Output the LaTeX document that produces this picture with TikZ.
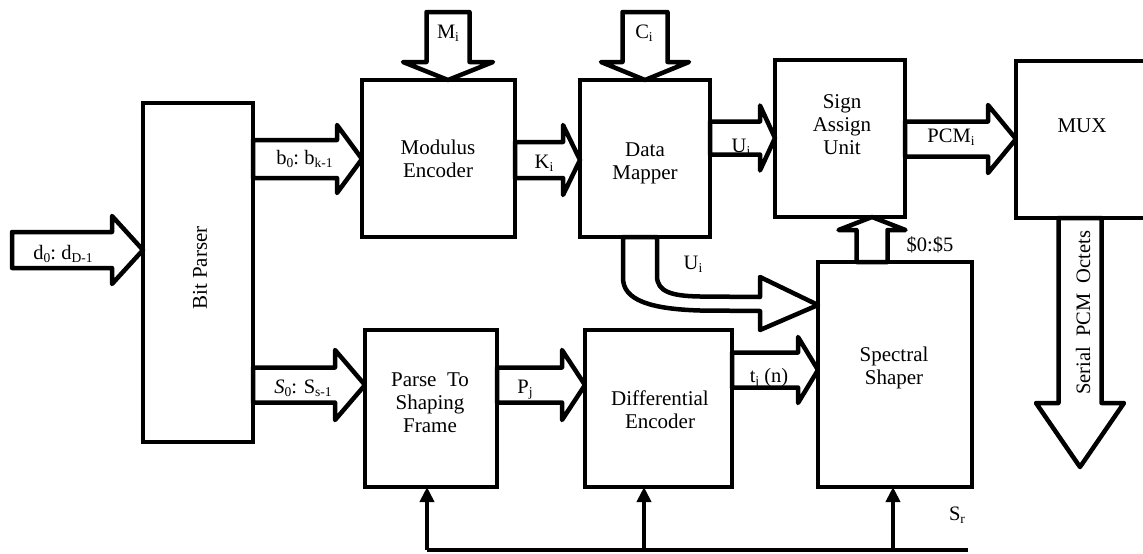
\documentclass[tikz,border=0pt]{standalone}
\usepackage{fontspec}
\setmainfont{Liberation Serif}
\usetikzlibrary{calc,arrows.meta}

% small lowered index used in the signal names
\newcommand\sbs[1]{\raisebox{-0.35ex}{\fontsize{13.5}{13.5}\selectfont #1}}

% hollow block arrows: #1 shaft start, #2 tip, #3 half shaft width,
% #4 half head width, #5 head length (all in pt)
\newcommand\blkR[5]{%
  \draw[blk] let \p1=#1, \p2=#2 in
    (\x1,\y2+#3pt) -- (\x2-#5pt,\y2+#3pt) -- (\x2-#5pt,\y2+#4pt) -- (\x2,\y2)
    -- (\x2-#5pt,\y2-#4pt) -- (\x2-#5pt,\y2-#3pt) -- (\x1,\y2-#3pt) -- cycle;}
\newcommand\blkD[5]{%
  \draw[blk] let \p1=#1, \p2=#2 in
    (\x2-#3pt,\y1) -- (\x2-#3pt,\y2+#5pt) -- (\x2-#4pt,\y2+#5pt) -- (\x2,\y2)
    -- (\x2+#4pt,\y2+#5pt) -- (\x2+#3pt,\y2+#5pt) -- (\x2+#3pt,\y1) -- cycle;}
\newcommand\blkU[5]{%
  \draw[blk] let \p1=#1, \p2=#2 in
    (\x2-#3pt,\y1) -- (\x2-#3pt,\y2-#5pt) -- (\x2-#4pt,\y2-#5pt) -- (\x2,\y2)
    -- (\x2+#4pt,\y2-#5pt) -- (\x2+#3pt,\y2-#5pt) -- (\x2+#3pt,\y1) -- cycle;}

\tikzset{
  box/.style={draw, line width=4.5pt, inner sep=0pt, outer sep=0pt, fill=white},
  blk/.style={draw, line width=4.5pt, line join=round, fill=white},
  txt/.style={inner sep=0pt, align=center, font=\fontsize{21}{23}\selectfont},
  lbl/.style={inner sep=0pt, anchor=base, font=\fontsize{20.5}{22}\selectfont},
  fb/.style={line width=4.8pt},
  fbarrow/.style={line width=4.8pt, -{Triangle[width=14pt,length=15pt]}},
}

\begin{document}
\begin{tikzpicture}[x=1pt,y=-1pt]
\useasboundingbox (0,0) rectangle (1143,554);
\clip (0,0) rectangle (1143,554);

% processing blocks
\node[box, minimum width=110pt, minimum height=339pt] (bp)  at (198,272.5) {};
\node[box, minimum width=153pt, minimum height=157pt] (me)  at (438.5,158.5) {};
\node[box, minimum width=130pt, minimum height=157pt] (dm)  at (645,158.5) {};
\node[box, minimum width=130pt, minimum height=157pt] (sa)  at (840,138.5) {};
\node[box, minimum width=150pt, minimum height=157pt] (mux) at (1091,139.5) {};
\node[box, minimum width=132pt, minimum height=157pt] (pf)  at (431,408.5) {};
\node[box, minimum width=147pt, minimum height=157pt] (de)  at (658.5,408.5) {};
\node[box, minimum width=154pt, minimum height=225pt] (ss)  at (895,374.5) {};

% block captions
\node[txt, rotate=90] (bpt) at (200,268) {Bit Parser};
\node[txt] (met) at (438,158.5) {Modulus\\Encoder};
\node[txt] (dmt) at (645,163.5) {Data\\Mapper};
\node[txt] (sat) at (842,125) {Sign\\Assign\\Unit};
\node[txt, anchor=base] (muxt) at (1082,132) {MUX};
\node[txt] (pft) at (430,403) {Parse\enspace To\\Shaping\\Frame};
\node[txt] (det) at (660,410) {Differential\\Encoder};
\node[txt] (sst) at (894,367.5) {Spectral\\Shaper};

% free ends of the open connectors
\coordinate (din)  at (12,250);
\coordinate (mtop) at (448,12);
\coordinate (ctop) at (645,12);
\coordinate (sout) at (1080,467);
\coordinate (fbL)  at (427,550);
\coordinate (fbD)  at (644,550);
\coordinate (fbS)  at (893,550);
\coordinate (fbR)  at (968,550);

% data paths
\blkR{(din)}{(bp.west |- din)}{18}{34}{31}
\blkR{(bp.east |- 0,159)}{(me.west |- 0,159)}{19}{34}{25}
\blkR{(me.east |- 0,160)}{(dm.west |- 0,160)}{18}{35}{17}
\blkR{(dm.east |- 0,138)}{(sa.west |- 0,138)}{16.5}{32.5}{15}
\blkR{(sa.east |- 0,139)}{(mux.west |- 0,139)}{17.5}{34}{28}
\blkR{(bp.east |- 0,385)}{(pf.west |- 0,385)}{17.5}{35}{30}
\blkR{(pf.east |- 0,385)}{(de.west |- 0,385)}{17.5}{35}{23}
\blkR{(de.east |- 0,370)}{(ss.west |- 0,370)}{17.5}{33}{20}
\blkD{(mtop)}{(me.north -| mtop)}{21.5}{45}{18}
\blkD{(ctop)}{(dm.north -| ctop)}{22.5}{44}{18}
\blkD{(mux.south -| sout)}{(sout)}{21.5}{44}{64}
\blkU{(ss.north -| 872,0)}{(sa.south -| 872,0)}{15.5}{33.5}{13}

% bent arrow from the data mapper into the spectral shaper
\draw[blk] (dm.south -| 623,0) -- (623,278)
  .. controls (623,300) and (650,309) .. (700,310.5) -- (760,311)
  -- (760,330) -- (ss.west |- 0,305) -- (760,277) -- (760,297)
  -- (700,296.5) .. controls (672,296) and (657,292) .. (657,276)
  -- (dm.south -| 657,0) -- cycle;

% shared control line along the bottom
\draw[fb] (fbL) -- (fbR);
\draw[fbarrow] (fbL) -- (pf.south -| fbL);
\draw[fbarrow] (fbD) -- (de.south -| fbD);
\draw[fbarrow] (fbS) -- (ss.south -| fbS);

% signal names
\node[lbl] (ld)  at (63,259)   {d\sbs{0}:\ d\sbs{D-1}};
\node[lbl] (lb)  at (304.5,164) {b\sbs{0}:\ b\sbs{k-1}};
\node[lbl] (lm)  at (448,38)   {M\sbs{i}};
\node[lbl] (lk)  at (544,168)  {K\sbs{i}};
\node[lbl] (lc)  at (644,38)   {C\sbs{i}};
\node[lbl] (lu)  at (741,152)  {U\sbs{i}};
\node[lbl] (lp)  at (951,142)  {PCM\sbs{i}};
\node[lbl] (ls5) at (930,251)  {\$0:\$5};
\node[lbl] (lu2) at (693,269)  {U\sbs{i}};
\node[lbl] (lt)  at (769,382)  {t\sbs{j} (n)};
\node[lbl] (lss) at (303,393)  {\textit{S}\sbs{0}: S\sbs{s-1}};
\node[lbl] (lpj) at (525,393)  {P\sbs{j}};
\node[lbl] (lsr) at (957,520)  {S\sbs{r}};
\node[txt, rotate=90, font=\fontsize{20.5}{22}\selectfont] (lser) at (1083,313) {Serial\enspace PCM\enspace Octets};
\end{tikzpicture}
\end{document}
